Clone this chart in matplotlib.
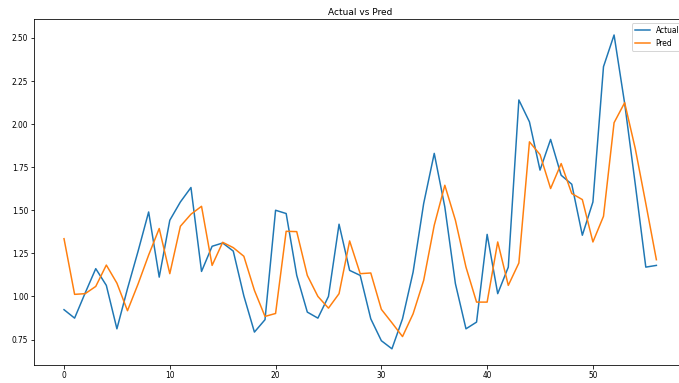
import matplotlib
matplotlib.use("Agg")
import matplotlib.pyplot as plt
import numpy as np

actual = [0.923, 0.874, 1.02, 1.161, 1.064, 0.812, 1.045, 1.262, 1.490, 1.112,
          1.442, 1.548, 1.632, 1.145, 1.291, 1.310, 1.263, 1.003, 0.793, 0.865,
          1.500, 1.481, 1.122, 0.909, 0.874, 1.000, 1.419, 1.151, 1.122, 0.870,
          0.743, 0.696, 0.870, 1.141, 1.539, 1.830, 1.519, 1.074, 0.812, 0.851,
          1.360, 1.016, 1.170, 2.140, 2.013, 1.733, 1.911, 1.703, 1.651, 1.355,
          1.548, 2.333, 2.517, 2.120, 1.653, 1.170, 1.180]
pred = [1.335, 1.012, 1.016, 1.058, 1.182, 1.077, 0.917, 1.072, 1.240, 1.394,
        1.132, 1.407, 1.477, 1.523, 1.180, 1.314, 1.283, 1.233, 1.035, 0.884,
        0.901, 1.378, 1.376, 1.122, 1.000, 0.932, 1.016, 1.322, 1.132, 1.136,
        0.925, 0.847, 0.767, 0.899, 1.093, 1.413, 1.645, 1.442, 1.170, 0.967,
        0.967, 1.316, 1.064, 1.194, 1.897, 1.823, 1.626, 1.771, 1.597, 1.562,
        1.316, 1.465, 2.008, 2.124, 1.859, 1.539, 1.213]

dpi = 72
fig = plt.figure(figsize=(679 / dpi, 383 / dpi), dpi=dpi)
W, H = 679, 383
left, right, top, bottom = 34.4, 686.0, 19.3, 364.5
ax = fig.add_axes([left / W, 1 - bottom / H, (right - left) / W, (bottom - top) / H])
ax.plot(np.arange(len(actual)), actual, label="Actual")
ax.plot(np.arange(len(pred)), pred, label="Pred")
ax.set_title("Actual vs Pred", fontsize=9, pad=4.5)
ax.tick_params(labelsize=7.5, pad=2.6)
ax.legend(loc="upper right", fontsize=7.5)
fig.savefig("out.png", dpi=dpi)
